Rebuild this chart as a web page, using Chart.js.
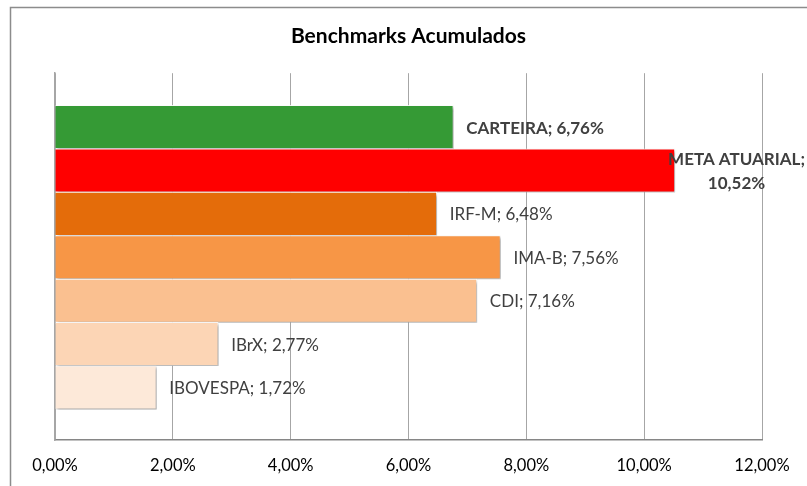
<!DOCTYPE html>
<html>
<head>
<meta charset="utf-8">
<script src="https://cdn.jsdelivr.net/npm/chart.js@4"></script>
<style>
  html, body { margin: 0; padding: 0; background: #fff; }
  #wrap { position: relative; width: 807px; height: 486px; }
</style>
</head>
<body>
<div id="wrap"><canvas id="benchChart" width="807" height="486"></canvas></div>
<script>
// dados do grafico
const categories = ["CARTEIRA", "META ATUARIAL", "IRF-M", "IMA-B", "CDI", "IBrX", "IBOVESPA"];
const values = [6.76, 10.52, 6.48, 7.56, 7.16, 2.77, 1.72];
const barColors = ["#359a35", "#ff0000", "#e46c0a", "#f79646", "#fac090", "#fcd5b5", "#fde9d9"];
const boldLabels = ["CARTEIRA", "META ATUARIAL"];
const xTicks = [0, 2, 4, 6, 8, 10, 12];

const fmt = (v) => v.toFixed(2).replace(".", ",") + "%";

const frame = {
  id: "frame",
  beforeDraw(chart) {
    const ctx = chart.ctx;
    ctx.save();
    ctx.strokeStyle = "#8c8c8c";
    ctx.lineWidth = 1.5;
    ctx.strokeRect(10.5, 7.5, 1000, 1000);
    ctx.restore();
  },
};

const shadow = {
  id: "shadow",
  beforeDatasetDraw(chart) {
    const ctx = chart.ctx;
    ctx.save();
    ctx.shadowColor = "rgba(0,0,0,0.35)";
    ctx.shadowOffsetX = 2;
    ctx.shadowOffsetY = 2;
    ctx.shadowBlur = 3;
  },
  afterDatasetDraw(chart) {
    chart.ctx.restore();
  },
};

const barLabels = {
  id: "barLabels",
  afterDatasetsDraw(chart) {
    const ctx = chart.ctx;
    const meta = chart.getDatasetMeta(0);
    ctx.save();
    ctx.fillStyle = "#404040";
    ctx.textBaseline = "middle";
    meta.data.forEach((bar, i) => {
      const bold = boldLabels.includes(categories[i]);
      ctx.font = (bold ? "bold " : "") + "17px Lato, 'Noto Sans', sans-serif";
      const text = categories[i] + "; " + fmt(values[i]);
      const w = ctx.measureText(text).width;
      const x0 = bar.x + 13;
      if (x0 + w <= chart.width - 2) {
        ctx.textAlign = "left";
        ctx.fillText(text, x0, bar.y + 1);
      } else {
        // quebra em duas linhas quando nao cabe
        const l1 = categories[i] + ";";
        const l2 = fmt(values[i]);
        const bw = ctx.measureText(l1).width;
        const cx = Math.min(x0 + bw / 2, chart.width - 2 - bw / 2);
        ctx.textAlign = "center";
        ctx.fillText(l1, cx, bar.y - 11);
        ctx.fillText(l2, cx, bar.y + 13);
      }
    });
    ctx.restore();
  },
};

new Chart(document.getElementById("benchChart"), {
  type: "bar",
  data: {
    datasets: [
      {
        label: "Benchmarks",
        data: values.map((v, i) => ({ x: v, y: i })),
        backgroundColor: barColors,
        borderColor: "rgba(255,255,255,0.85)",
        borderWidth: 1,
        barPercentage: 1,
        categoryPercentage: 1,
      },
    ],
  },
  options: {
    indexAxis: "y",
    responsive: false,
    animation: false,
    layout: { padding: { left: 55, right: 45, top: 0, bottom: 0 } },
    plugins: {
      legend: { display: false },
      tooltip: { enabled: false },
      title: {
        display: true,
        text: "Benchmarks Acumulados",
        color: "#000",
        font: { family: "Lato, 'Noto Sans', sans-serif", size: 21, weight: "bold" },
        padding: { top: 24, bottom: 24 },
      },
    },
    scales: {
      x: {
        type: "linear",
        min: 0,
        max: 12,
        afterBuildTicks: (scale) => {
          scale.ticks = xTicks.map((v) => ({ value: v }));
        },
        afterFit: (scale) => {
          scale.height = 46;
        },
        ticks: {
          color: "#000",
          padding: 16,
          font: { family: "Lato, 'Noto Sans', sans-serif", size: 16.5 },
          callback: (v) => fmt(v),
        },
        grid: { color: "#a6a6a6", lineWidth: 1, drawTicks: false },
        border: { color: "#868686", width: 1.5 },
      },
      y: {
        type: "linear",
        reverse: true,
        offset: false,
        min: -1.24,
        max: 7.21,
        afterBuildTicks: (scale) => {
          scale.ticks = categories.map((c, i) => ({ value: i }));
        },
        afterFit: (scale) => {
          scale.width = 0;
        },
        ticks: { display: false },
        grid: { display: false },
        border: { display: true, color: "#a6a6a6", width: 1.5 },
      },
    },
  },
  plugins: [frame, shadow, barLabels],
});
</script>
</body>
</html>
